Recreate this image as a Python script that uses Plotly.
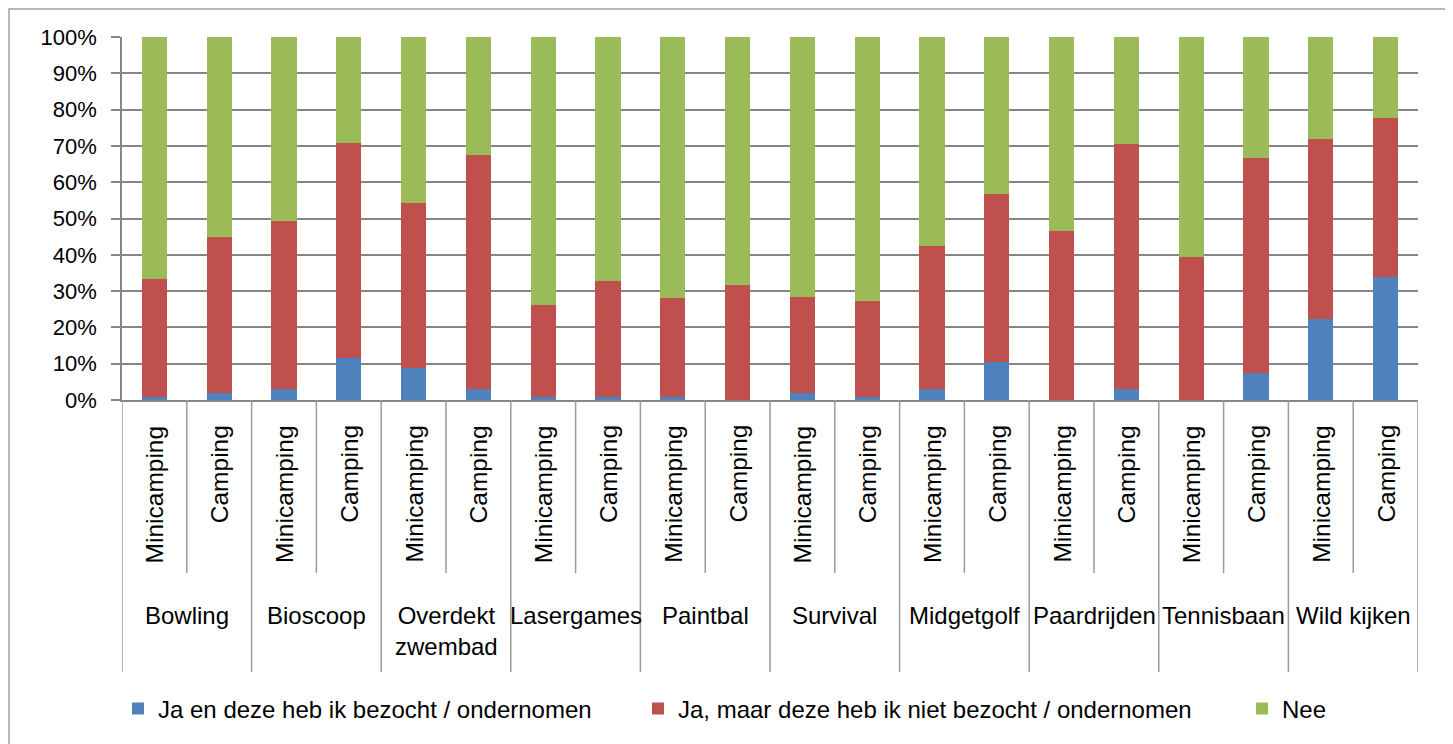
import plotly.graph_objects as go

groups = ["Bowling", "Bioscoop", "Overdekt<br>zwembad", "Lasergames", "Paintbal",
          "Survival", "Midgetgolf", "Paardrijden", "Tennisbaan", "Wild kijken"]
subcats = ["Minicamping", "Camping"]

series_names = ["Ja en deze heb ik bezocht / ondernomen",
                "Ja, maar deze heb ik niet bezocht / ondernomen",
                "Nee"]

bezocht = [0.9, 2.0, 2.9, 11.6, 8.8, 3.0, 0.8, 0.9, 0.9, 0.0,
           1.9, 0.9, 2.9, 10.6, 0.0, 3.1, 0.0, 7.4, 22.2, 33.9]
niet_bezocht = [32.4, 43.0, 46.5, 59.2, 45.5, 64.6, 25.3, 31.9, 27.2, 31.7,
                26.5, 26.3, 39.5, 46.2, 46.5, 67.4, 39.3, 59.2, 49.6, 43.8]
nee = [66.7, 55.0, 50.6, 29.2, 45.7, 32.4, 73.9, 67.2, 71.9, 68.3,
       71.6, 72.8, 57.6, 43.2, 53.5, 29.5, 60.7, 33.4, 28.2, 22.3]

y_ticks = [0, 10, 20, 30, 40, 50, 60, 70, 80, 90, 100]
y_tick_text = [f"{v}%" for v in y_ticks]

colors = ["#4F81BD", "#C0504D", "#9BBB59"]

bar_labels = [s for g in groups for s in subcats]
xpos = list(range(len(bar_labels)))

FONT = "Liberation Sans"
OFF = 8  # page body margin offset
W, H = 1453 - OFF, 744 - OFF
# target screen positions of plot area: x 122..1418, y 37..400
ML, MR, MT, MB = 122 - OFF, 1453 - 1418, 37 - OFF, 744 - 400
PW = W - ML - MR
PH = H - MT - MB


def px_x(px):
    # px is a screen coordinate
    return (px - OFF - ML) / PW


def px_y(py):
    return (H - MB - (py - OFF)) / PH


fig = go.Figure()
legend_ids = ["legend", "legend2", "legend3"]
for name, vals, col, lid in zip(series_names, [bezocht, niet_bezocht, nee], colors, legend_ids):
    fig.add_trace(go.Bar(
        x=xpos, y=vals, name=name, marker=dict(color=col, line=dict(width=0)),
        width=0.39, legend=lid, hoverinfo="skip"))

annotations = []
for i, lab in enumerate(bar_labels):
    annotations.append(dict(
        x=i, y=px_y(423), xref="x", yref="paper", text=lab, textangle=-90,
        showarrow=False, xanchor="center", yanchor="top",
        font=dict(family=FONT, size=24.5, color="black")))
for g, lab in enumerate(groups):
    annotations.append(dict(
        x=2 * g + 0.5, y=px_y(600), xref="x", yref="paper", text=lab,
        showarrow=False, xanchor="center", yanchor="top",
        font=dict(family=FONT, size=24, color="black")))

shapes = []
for k in range(len(bar_labels) + 1):
    bx = k - 0.5
    end = 672 if k % 2 == 0 else 573
    shapes.append(dict(type="line", xref="x", yref="paper", x0=bx, x1=bx,
                       y0=0, y1=px_y(end), line=dict(color="#9A9A9A", width=1.5)))
# outer chart border
shapes.append(dict(type="rect", xref="paper", yref="paper",
                   x0=px_x(9), x1=px_x(1448), y0=px_y(9), y1=px_y(760),
                   line=dict(color="#A0A0A0", width=1.5), fillcolor="rgba(0,0,0,0)",
                   layer="below"))

leg_common = dict(orientation="h", yanchor="middle", xanchor="left",
                  font=dict(family=FONT, size=24, color="black"),
                  bgcolor="rgba(0,0,0,0)", borderwidth=0)

fig.update_layout(
    width=W, height=H,
    margin=dict(l=ML, r=MR, t=MT, b=MB, autoexpand=False),
    paper_bgcolor="white", plot_bgcolor="white",
    barmode="stack",
    font=dict(family=FONT, color="black"),
    showlegend=True,
    legend=dict(x=px_x(118), y=px_y(709), **leg_common),
    legend2=dict(x=px_x(638), y=px_y(709), **leg_common),
    legend3=dict(x=px_x(1242), y=px_y(709), **leg_common),
    xaxis=dict(range=[-0.5, len(bar_labels) - 0.5], showticklabels=False,
               showgrid=False, zeroline=False, showline=True,
               linecolor="#868686", linewidth=1.5, ticks=""),
    yaxis=dict(range=[0, 100], tickvals=y_ticks, ticktext=y_tick_text,
               showgrid=True, gridcolor="#868686", gridwidth=1.5,
               zeroline=False, showline=True, linecolor="#868686", linewidth=1.5,
               ticks="outside", ticklen=9, tickcolor="#868686", tickwidth=1.5,
               ticklabelstandoff=10,
               tickfont=dict(family=FONT, size=22, color="black")),
    annotations=annotations,
    shapes=shapes,
)

fig.write_html("out.html")
